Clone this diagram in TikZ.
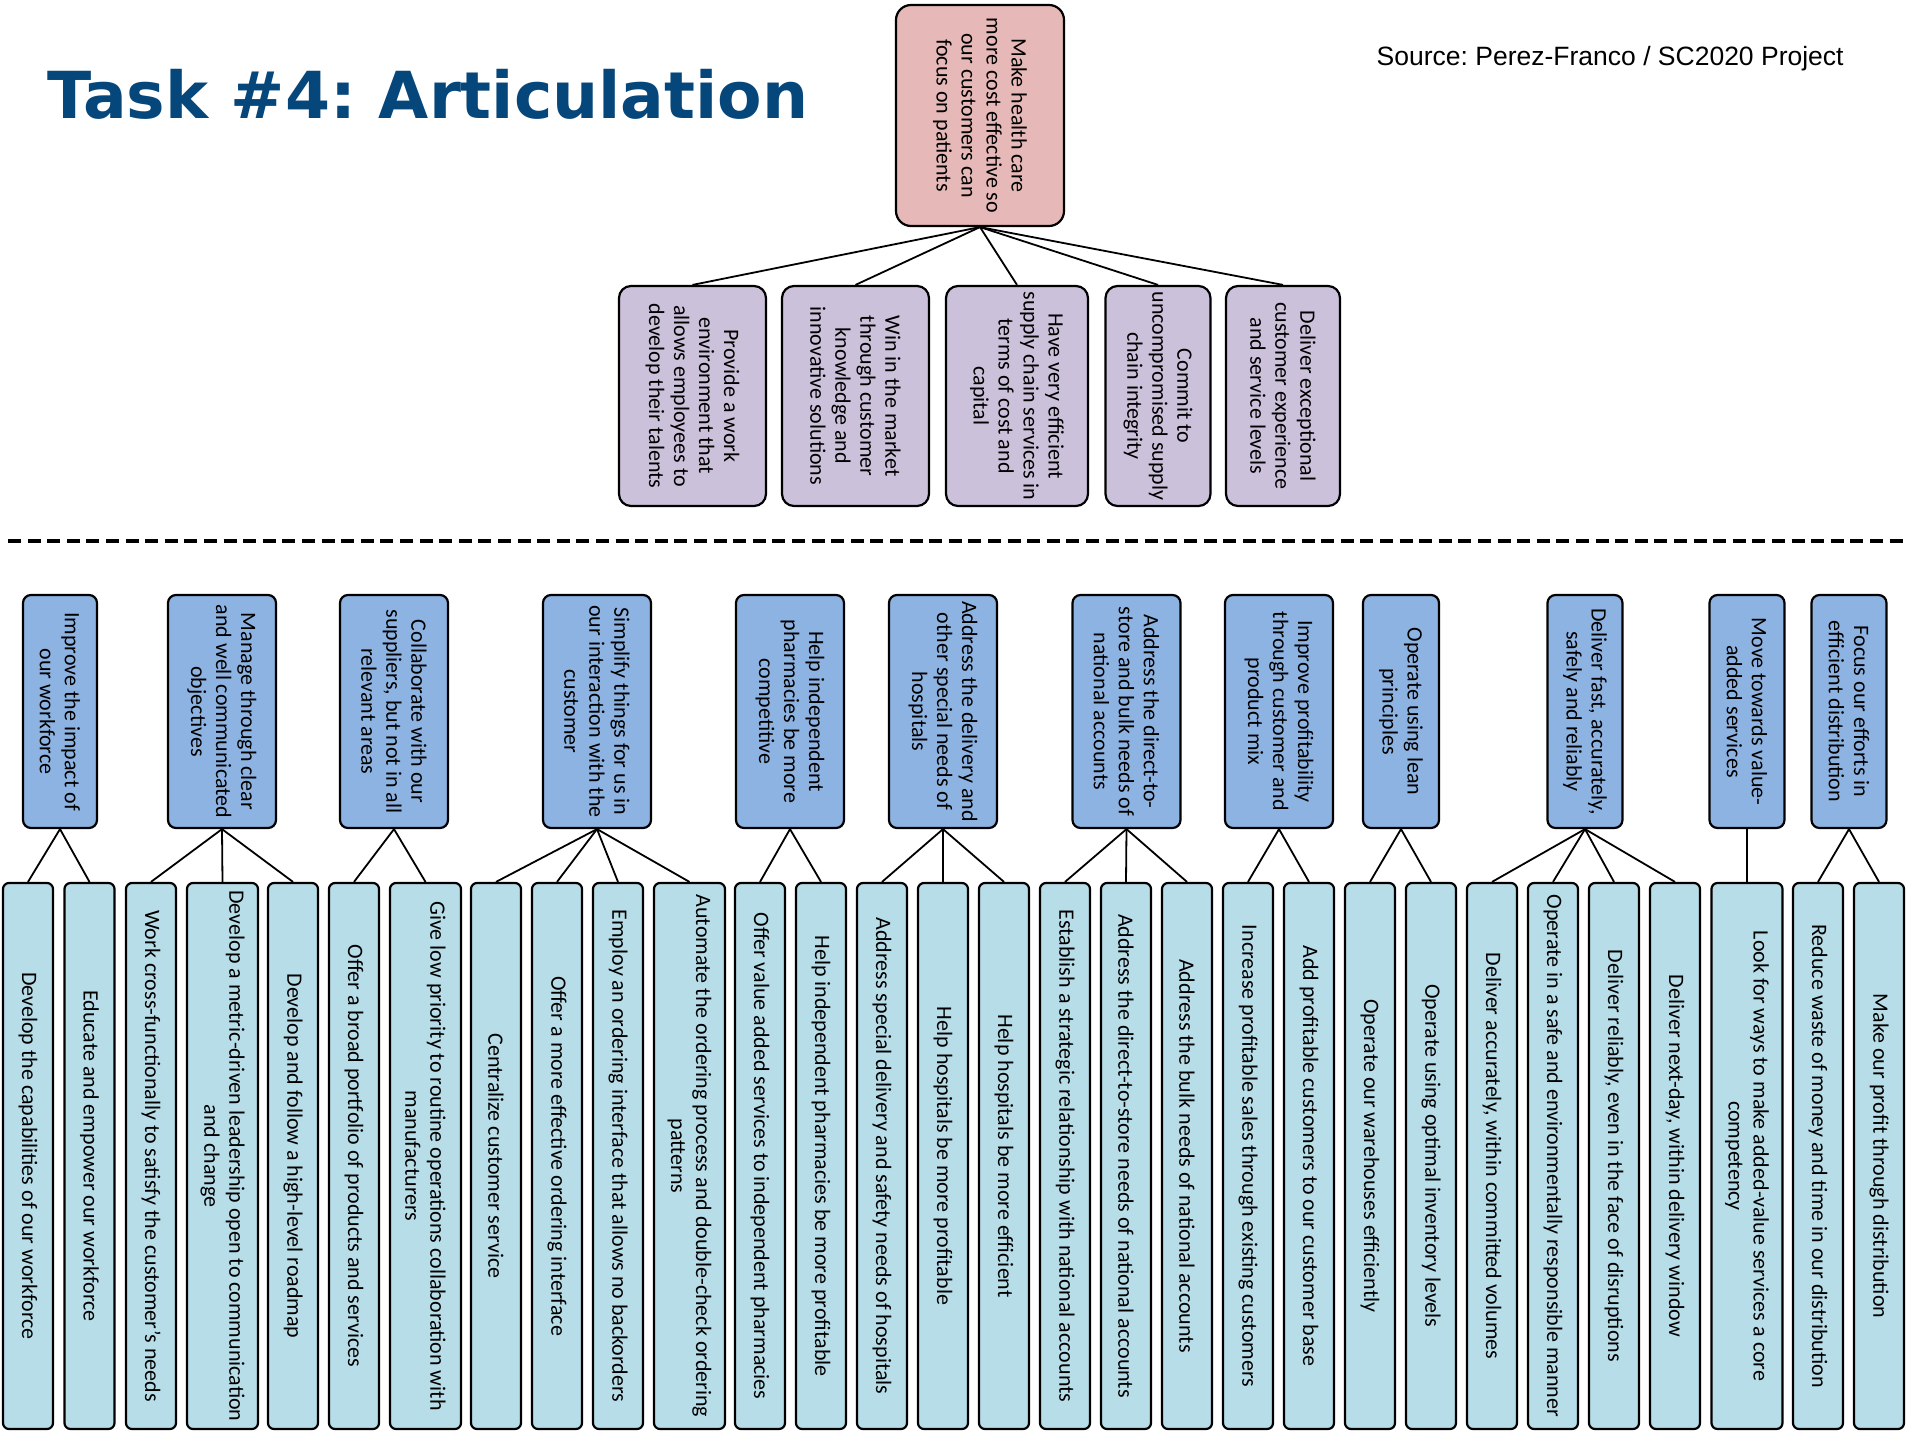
\documentclass[tikz,border=0pt]{standalone}
\usepackage{fontspec}
\setmainfont{Carlito}
\newfontfamily\titlefont{DejaVu Sans}
\newfontfamily\srcfont{Liberation Sans}
\frenchspacing
\definecolor{goalpink}{HTML}{E6B9B8}
\definecolor{objlav}{HTML}{CCC1DA}
\definecolor{midblue}{HTML}{8DB3E2}
\definecolor{lowblue}{HTML}{B7DDE8}
\definecolor{titleblue}{HTML}{05467B}
\begin{document}
\begin{tikzpicture}[x=1pt,y=-1pt,
  boxbase/.style={draw=black, line width=2.2pt, rotate=-90, inner sep=0pt,
    align=center, text=black, font=\fontsize{22}{25}\selectfont},
  goalbox/.style={boxbase, fill=goalpink, rounded corners=15pt,
    minimum width=221pt, minimum height=168pt},
  objbox/.style={boxbase, fill=objlav, rounded corners=12pt, minimum width=220pt},
  midbox/.style={boxbase, fill=midblue, rounded corners=8pt, minimum width=233pt},
  lowbox/.style={boxbase, fill=lowblue, rounded corners=6pt, minimum width=546pt,
    minimum height=50pt},
  lowwide/.style={lowbox, minimum height=71pt},
  link/.style={draw=black, line width=1.8pt},
  divider/.style={draw=black, line width=3.5pt, dash pattern=on 13pt off 6.6pt}
]
\fill[white] (0,0) rectangle (1907,1432);
\useasboundingbox (0,0) rectangle (1907,1432);

% heading and source line
\node[anchor=base west, inner sep=0pt, text=titleblue,
  font=\titlefont\bfseries\fontsize{64.8}{64.8}\selectfont] (title) at (47,118) {Task \#4: Articulation};
\node[anchor=base west, inner sep=0pt,
  font=\srcfont\fontsize{26.5}{26.5}\selectfont] (source) at (1376.5,65) {Source: Perez-Franco / SC2020 Project};

% overall goal
\node[goalbox] (goal) at (980,115.5) {Make health care\\more cost effective so\\our customers can\\focus on patients};

% strategic objectives
\node[objbox, minimum height=147pt] (o1) at (692.5,396) {Provide a work\\environment that\\allows employees to\\develop their talents};
\node[objbox, minimum height=147pt] (o2) at (855.5,396) {Win in the market\\through customer\\knowledge and\\innovative solutions};
\node[objbox, minimum height=142pt] (o3) at (1017,396) {Have very efficient\\supply chain services in\\terms of cost and\\capital};
\node[objbox, minimum height=105pt] (o4) at (1158,396) {Commit to\\uncompromised supply\\chain integrity};
\node[objbox, minimum height=114pt] (o5) at (1283,396) {Deliver exceptional\\customer experience\\and service levels};

\foreach \o in {o1,o2,o3,o4,o5} \draw[link] (goal.east) -- (\o.west);

% separator
\draw[divider] (8,541) -- (1907,541);

% themes
\node[midbox, minimum height=74pt]  (m1)  at (60,711.5)   {Improve the impact of\\our workforce};
\node[midbox, minimum height=108pt] (m2)  at (222,711.5)  {Manage through clear\\and well communicated\\objectives};
\node[midbox, minimum height=108pt] (m3)  at (394,711.5)  {Collaborate with our\\suppliers, but not in all\\relevant areas};
\node[midbox, minimum height=108pt] (m4)  at (597,711.5)  {Simplify things for us in\\our interaction with the\\customer};
\node[midbox, minimum height=108pt] (m5)  at (790,711.5)  {Help independent\\pharmacies be more\\competitive};
\node[midbox, minimum height=108pt] (m6)  at (943,711.5)  {Address the delivery and\\other special needs of\\hospitals};
\node[midbox, minimum height=108pt] (m7)  at (1126.5,711.5) {Address the direct-to-\\store and bulk needs of\\national accounts};
\node[midbox, minimum height=108pt] (m8)  at (1279,711.5) {Improve profitability\\through customer and\\product mix};
\node[midbox, minimum height=76pt]  (m9)  at (1401,711.5) {Operate using lean\\principles};
\node[midbox, minimum height=75pt]  (m10) at (1585,711.5) {Deliver fast, accurately,\\safely and reliably};
\node[midbox, minimum height=75pt]  (m11) at (1747,711.5) {Move towards value-\\added services};
\node[midbox, minimum height=75pt]  (m12) at (1849,711.5) {Focus our efforts in\\efficient distribution};

% concrete actions
\node[lowbox]  (b1)  at (28,1156)   {Develop the capabilities of our workforce};
\node[lowbox]  (b2)  at (89.5,1156) {Educate and empower our workforce};
\node[lowbox]  (b3)  at (151,1156)  {Work cross-functionally to satisfy the customer’s needs};
\node[lowwide] (b4)  at (222.5,1156) {Develop a metric-driven leadership open to communication\\and change};
\node[lowbox]  (b5)  at (293,1156)  {Develop and follow a high-level roadmap};
\node[lowbox]  (b6)  at (354,1156)  {Offer a broad portfolio of products and services};
\node[lowwide] (b7)  at (425.5,1156) {Give low priority to routine operations collaboration with\\manufacturers};
\node[lowbox]  (b8)  at (496,1156)  {Centralize customer service};
\node[lowbox]  (b9)  at (557,1156)  {Offer a more effective ordering interface};
\node[lowbox]  (b10) at (618,1156)  {Employ an ordering interface that allows no backorders};
\node[lowwide] (b11) at (689.5,1156) {Automate the ordering process and double-check ordering\\patterns};
\node[lowbox]  (b12) at (760,1156)  {Offer value added services to independent pharmacies};
\node[lowbox]  (b13) at (821,1156)  {Help independent pharmacies be more profitable};
\node[lowbox]  (b14) at (882,1156)  {Address special delivery and safety needs of hospitals};
\node[lowbox]  (b15) at (943,1156)  {Help hospitals be more profitable};
\node[lowbox]  (b16) at (1004,1156) {Help hospitals be more efficient};
\node[lowbox]  (b17) at (1065,1156) {Establish a strategic relationship with national accounts};
\node[lowbox]  (b18) at (1126,1156) {Address the direct-to-store needs of national accounts};
\node[lowbox]  (b19) at (1187,1156) {Address the bulk needs of national accounts};
\node[lowbox]  (b20) at (1248,1156) {Increase profitable sales through existing customers};
\node[lowbox]  (b21) at (1309,1156) {Add profitable customers to our customer base};
\node[lowbox]  (b22) at (1370,1156) {Operate our warehouses efficiently};
\node[lowbox]  (b23) at (1431,1156) {Operate using optimal inventory levels};
\node[lowbox]  (b24) at (1492,1156) {Deliver accurately, within committed volumes};
\node[lowbox]  (b25) at (1553,1156) {Operate in a safe and environmentally responsible manner};
\node[lowbox]  (b26) at (1614,1156) {Deliver reliably, even in the face of disruptions};
\node[lowbox]  (b27) at (1675,1156) {Deliver next-day, within delivery window};
\node[lowwide] (b28) at (1747,1156) {Look for ways to make added-value services a core\\competency};
\node[lowbox]  (b29) at (1818,1156) {Reduce waste of money and time in our distribution};
\node[lowbox]  (b30) at (1879,1156) {Make our profit through distribution};

% theme-to-action links
\foreach \p/\c in {m1/b1, m1/b2,
                   m2/b3, m2/b4, m2/b5,
                   m3/b6, m3/b7,
                   m4/b8, m4/b9, m4/b10, m4/b11,
                   m5/b12, m5/b13,
                   m6/b14, m6/b15, m6/b16,
                   m7/b17, m7/b18, m7/b19,
                   m8/b20, m8/b21,
                   m9/b22, m9/b23,
                   m10/b24, m10/b25, m10/b26, m10/b27,
                   m11/b28,
                   m12/b29, m12/b30}
  \draw[link] (\p.east) -- (\c.west);
\end{tikzpicture}
\end{document}
